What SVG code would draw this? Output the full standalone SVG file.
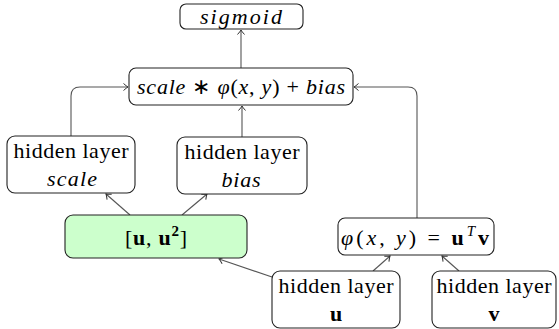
<svg xmlns="http://www.w3.org/2000/svg" width="559" height="329" viewBox="0 0 559 329">
<defs>
<marker id="arr" viewBox="-6 -5 7 10" refX="0" refY="0" markerWidth="7" markerHeight="10" markerUnits="userSpaceOnUse" orient="auto">
<path d="M-4.5,-3.5 Q-1.5,-0.8 0,0 Q-1.5,0.8 -4.5,3.5" fill="none" stroke="#333" stroke-width="1"/>
</marker>
</defs>
<style>
.box{fill:#fff;stroke:#222;stroke-width:1.1}
.green{fill:#ccffcc;stroke:#222;stroke-width:1.1}
.c{fill:none;stroke:#555;stroke-width:1.1;marker-end:url(#arr)}
.t{font-family:'Liberation Serif',serif;font-size:22px;text-anchor:middle;fill:#000}
.i{font-style:italic}
.b{font-weight:bold}
.s{font-size:15px}
</style>
<g id="connectors">
<path class="c" d="M241,68 L241,30"/>
<path class="c" d="M71,136 L71,96 Q71,87 80,87 L128,87"/>
<path class="c" d="M242,137 L242,106"/>
<path class="c" d="M417,218 L417,96 Q417,87 408,87 L354,87"/>
<path class="c" d="M130,215 L106,194"/>
<path class="c" d="M182,215 L207,194"/>
<path class="c" d="M272,277 L219,259"/>
<path class="c" d="M373,271 L390,256"/>
<path class="c" d="M459,271 L442,256"/>
</g>
<g id="sigmoid">
<rect class="box" x="180" y="4" width="123" height="25" rx="6"/>
<text class="t i" x="241" y="24" font-family="Liberation Serif" textLength="82">sigmoid</text>
</g>
<g id="combine">
<rect class="box" x="129" y="68" width="224" height="37" rx="7"/>
<text class="t" x="241" y="94" font-family="Liberation Serif" textLength="208"><tspan class="i">scale</tspan> &#8727; <tspan class="i">&#966;</tspan>(<tspan class="i">x</tspan>, <tspan class="i">y</tspan>) + <tspan class="i">bias</tspan></text>
</g>
<g id="hidden-scale">
<rect class="box" x="7" y="136" width="128" height="57" rx="8"/>
<text class="t" x="71" y="158" font-family="Liberation Serif" textLength="115">hidden layer</text>
<text class="t i" x="72" y="186" font-family="Liberation Serif" textLength="50">scale</text>
</g>
<g id="hidden-bias">
<rect class="box" x="177" y="137" width="130" height="57" rx="8"/>
<text class="t" x="242" y="159" font-family="Liberation Serif" textLength="115">hidden layer</text>
<text class="t i" x="241" y="187" font-family="Liberation Serif" textLength="39">bias</text>
</g>
<g id="features">
<rect class="green" x="65" y="215" width="182" height="43" rx="8"/>
<text class="t" x="156" y="245" font-family="Liberation Serif" textLength="62">[<tspan class="b">u</tspan>, <tspan class="b">u</tspan><tspan class="b s" dy="-9">2</tspan><tspan dy="9">]</tspan></text>
</g>
<g id="phi">
<rect class="box" x="338" y="218" width="156" height="37" rx="7"/>
<text class="t" x="415" y="245" font-family="Liberation Serif" textLength="148"><tspan class="i">&#966;</tspan>(<tspan class="i">x</tspan>, <tspan class="i">y</tspan>) = <tspan class="b">u</tspan><tspan class="i s" dy="-9">T</tspan><tspan class="b" dy="9">v</tspan></text>
</g>
<g id="hidden-u">
<rect class="box" x="272" y="271" width="128" height="57" rx="8"/>
<text class="t" x="336" y="293" font-family="Liberation Serif" textLength="115">hidden layer</text>
<text class="t b" x="336" y="321" font-family="Liberation Serif">u</text>
</g>
<g id="hidden-v">
<rect class="box" x="432" y="271" width="124" height="57" rx="8"/>
<text class="t" x="494" y="293" font-family="Liberation Serif" textLength="115">hidden layer</text>
<text class="t b" x="494" y="321" font-family="Liberation Serif">v</text>
</g>
</svg>
